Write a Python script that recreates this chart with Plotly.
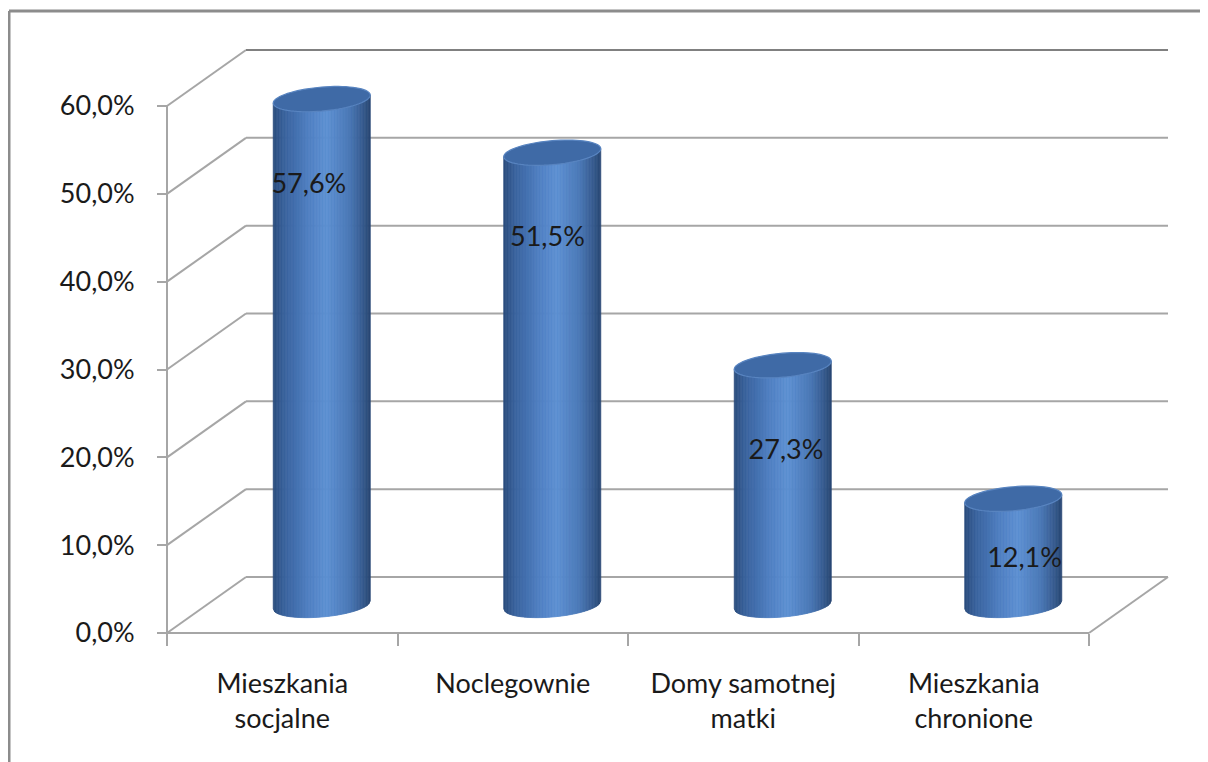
import plotly.graph_objects as go
import numpy as np

# ---------------- data ----------------
categories = ["Mieszkania<br>socjalne", "Noclegownie", "Domy samotnej<br>matki", "Mieszkania<br>chronione"]
values = [57.6, 51.5, 27.3, 12.1]
value_labels = ["57,6%", "51,5%", "27,3%", "12,1%"]
tick_values = [0, 10, 20, 30, 40, 50, 60]
tick_labels = ["0,0%", "10,0%", "20,0%", "30,0%", "40,0%", "50,0%", "60,0%"]

# ---------------- geometry / layout ----------------
OFF = 8                       # page body margin of the browser
W, H = 1208 - OFF, 762 - OFF  # figure size
PX_X = 230.5      # pixels per category
PX_Y = 8.783      # pixels per percent point
Y0_PIX = 633 - OFF   # pixel row of 0 % on the front plane
X0_PIX = 167 - OFF   # pixel column of the front-left corner
ML, MR, MT, MB = 130, 0, 0, 95

xmin = -0.5 - (X0_PIX - ML) / PX_X
xmax = -0.5 + (W - MR - X0_PIX) / PX_X
ymax = (Y0_PIX - MT) / PX_Y
ymin = -(H - MB - Y0_PIX) / PX_Y

DX = 79 / PX_X    # depth offset (x)
DY = 56 / PX_Y    # depth offset (y)
n = len(categories)
left_edge, right_edge = -0.5, n - 0.5

GRID = "#a6a6a6"
TOPLINE = "#808080"
FONT = "Lato, 'Open Sans', sans-serif"
FS = 27

shapes = []

def line(x0, y0, x1, y1, color=GRID, width=2, xref="x", yref="y"):
    shapes.append(dict(type="line", x0=x0, y0=y0, x1=x1, y1=y1, xref=xref, yref=yref,
                       line=dict(color=color, width=width), layer="below"))

# back wall gridlines + left side wall diagonals
for v in tick_values:
    c = TOPLINE if v == tick_values[-1] else GRID
    line(left_edge, v, left_edge + DX, v + DY, color=GRID)
    line(left_edge + DX, v + DY, right_edge + DX, v + DY, color=c)
# floor front edge & right diagonal
line(left_edge, 0, right_edge, 0)
line(right_edge, 0, right_edge + DX, DY)
# vertical value axis line
line(left_edge, 0, left_edge, tick_values[-1])

# ---------------- cylinders ----------------
RX = 48.5 / PX_X
RY = 12 / PX_Y
K = (8 / 97) * PX_X / PX_Y   # shear of the elliptical caps

stops_t = [0.0, 0.12, 0.35, 0.55, 0.78, 0.92, 1.0]
stops_c = [(42, 76, 124), (58, 99, 158), (78, 126, 192), (93, 144, 211),
           (76, 122, 184), (55, 92, 145), (40, 70, 114)]

def shade(t):
    r = np.interp(t, stops_t, [c[0] for c in stops_c])
    g = np.interp(t, stops_t, [c[1] for c in stops_c])
    b = np.interp(t, stops_t, [c[2] for c in stops_c])
    return f"rgb({int(r)},{int(g)},{int(b)})"

NS = 64
for i, v in enumerate(values):
    cx = i + DX / 2
    yb = DY / 2
    yt = DY / 2 + v
    xs = np.linspace(cx - RX, cx + RX, NS + 1)
    def bot(x):
        u = np.clip((x - cx) / RX, -1, 1)
        return yb - RY * np.sqrt(1 - u * u) + K * (x - cx)
    def top(x):
        return yt + K * (x - cx)
    for j in range(NS):
        xa, xb = xs[j], xs[j + 1]
        col = shade((j + 0.5) / NS)
        path = (f"M{xa},{bot(xa)} L{xb},{bot(xb)} L{xb},{top(xb)} L{xa},{top(xa)} Z")
        shapes.append(dict(type="path", path=path, xref="x", yref="y", fillcolor=col,
                           line=dict(color=col, width=0.8), layer="below"))
    th = np.linspace(0, 2 * np.pi, 73)
    px = cx + RX * np.cos(th)
    py = yt + RY * np.sin(th) + K * RX * np.cos(th)
    path = "M" + " L".join(f"{a},{b}" for a, b in zip(px, py)) + " Z"
    shapes.append(dict(type="path", path=path, xref="x", yref="y", fillcolor="rgb(63,106,166)",
                       line=dict(color="rgb(88,132,192)", width=1.2), layer="below"))

# ---------------- outer frame ----------------
pw, ph = W - ML - MR, H - MB - MT
def pxp(p): return (p - ML) / pw
def pyp(p): return (H - MB - p) / ph
line(pxp(9 - OFF), pyp(11 - OFF), pxp(9 - OFF), pyp(H), color="#8c8c8c", width=3, xref="paper", yref="paper")
line(pxp(9 - OFF), pyp(11 - OFF), pxp(W), pyp(11 - OFF), color="#8c8c8c", width=3, xref="paper", yref="paper")

# ---------------- data labels ----------------
lab_x = [i + DX / 2 + 0.035 * (i - 1.6) for i in range(n)]
lab_y = [DY / 2 + max(v - 9.9, v * 0.42) for v in values]

fig = go.Figure()
fig.add_trace(go.Scatter(x=lab_x, y=lab_y, mode="text", text=value_labels,
                         textfont=dict(family=FONT, size=FS, color="#1a1a1a"),
                         hoverinfo="skip", showlegend=False, cliponaxis=False))

fig.update_layout(
    width=W, height=H, margin=dict(l=ML, r=MR, t=MT, b=MB),
    paper_bgcolor="white", plot_bgcolor="white",
    shapes=shapes, showlegend=False,
    xaxis=dict(range=[xmin, xmax], showgrid=False, zeroline=False, showline=False,
               tickvals=list(range(n)), ticktext=categories, ticks="",
               tickfont=dict(family=FONT, size=FS, color="#1a1a1a"),
               anchor="free", position=(H - MB - Y0_PIX) / ph,
               ticklabelstandoff=32,
               minor=dict(tick0=-0.5, dtick=1, ticks="outside", ticklen=12,
                          tickwidth=2, tickcolor=GRID, showgrid=False)),
    yaxis=dict(range=[ymin, ymax], showgrid=False, zeroline=False, showline=False,
               tickvals=tick_values, ticktext=tick_labels, ticks="outside",
               ticklen=10, tickwidth=2, tickcolor=GRID,
               tickfont=dict(family=FONT, size=FS, color="#1a1a1a"),
               anchor="free", position=pxp(X0_PIX), ticklabelstandoff=17),
)

fig.write_html("out.html")
